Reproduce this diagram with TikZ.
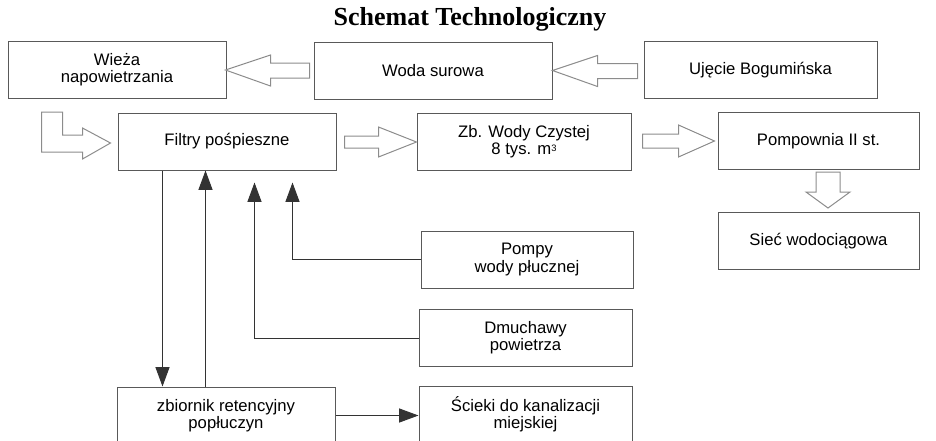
\documentclass[tikz,border=0pt]{standalone}
\usepackage{fontspec}
\setsansfont{Liberation Sans}
\newfontfamily\tytulfont{Liberation Serif}
\usetikzlibrary{arrows.meta,calc}
\tikzset{% style blokow i strzalek
    blok/.style={rectangle, draw=black!65, line width=0.75pt, align=center,
        inner sep=0pt, minimum height=42.75pt,
        font=\sffamily\fontsize{12.5}{13}\selectfont},
    pusta/.style={draw=black!45, line width=0.75pt, line join=miter},
    e/.style={-{Triangle[length=14.5pt,width=10.5pt]}, draw=black!80, line width=0.75pt}}

\begin{document}
\begin{tikzpicture}[x=0.75pt,y=-0.75pt]
    \useasboundingbox (0,0) rectangle (936,440);
    \node[font=\tytulfont\bfseries\fontsize{19.5}{20}\selectfont] (tytul) at (470,19) {Schemat Technologiczny};

    \node[blok, minimum width=163.5pt] (wieza) at (117,70) {Wieża\\napowietrzania};
    \node[blok, minimum width=178.5pt] (woda) at (433,70.5) {Woda surowa};
    \node[blok, minimum width=174.75pt] (ujecie) at (760.5,70) {Ujęcie Bogumińska};
    \node[blok, minimum width=163.5pt] (filtry) at (227,141.5) {Filtry pośpieszne};
    \node[blok, minimum width=160.5pt] (zbiornik) at (524,142) {Zb. Wody Czystej\\8 tys. m{\fontsize{7}{7}\selectfont\raisebox{0.7ex}{3}}};
    \node[blok, minimum width=150.75pt] (pompownia) at (818.5,141) {Pompownia II st.};
    \node[blok, minimum width=150.75pt] (siec) at (818.5,241) {Sieć wodociągowa};
    \node[blok, minimum width=159pt] (pompy) at (527,259.5) {Pompy\\wody płucznej};
    \node[blok, minimum width=159.75pt] (dmuchawy) at (525.5,338) {Dmuchawy\\powietrza};
    \node[blok, minimum width=159.75pt] (scieki) at (525.5,414.5) {Ścieki do kanalizacji\\miejskiej};
    \node[blok, minimum width=163.5pt] (retencja) at (226,415.5) {zbiornik retencyjny\\popłuczyn};

    % puste strzalki
    \draw[pusta] (woda.west) ++(-88,-0.5) -- ++(45,-15) -- ++(0,8) -- ++(39,0) -- ++(0,15)
        -- ++(-39,0) -- ++(0,8) -- cycle;
    \draw[pusta] (woda.east) -- ++(45,-15) -- ++(0,8) -- ++(40,0) -- ++(0,15)
        -- ++(-40,0) -- ++(0,8) -- cycle;
    \draw[pusta] ($(filtry.west)+(-7,1.5)$) -- ++(-28,-15) -- ++(0,7) -- ++(-20,0) -- ++(0,-23)
        -- ++(-21,0) -- ++(0,40) -- ++(41,0) -- ++(0,7) -- cycle;
    \draw[pusta] (zbiornik.west) -- ++(-38,-15) -- ++(0,9) -- ++(-34,0) -- ++(0,12)
        -- ++(34,0) -- ++(0,9) -- cycle;
    \draw[pusta] ($(pompownia.west)+(-3,0)$) -- ++(-36,-16) -- ++(0,9) -- ++(-36,0) -- ++(0,14)
        -- ++(36,0) -- ++(0,9) -- cycle;
    \draw[pusta] ($(siec.north)+(9.5,-4)$) -- ++(-22,-16) -- ++(10,0) -- ++(0,-20) -- ++(24,0)
        -- ++(0,20) -- ++(10,0) -- cycle;

    % linie plukania
    \coordinate (odplyw) at ($(filtry.south west)+(45,0)$);
    \coordinate (powrot) at ($(filtry.south west)+(88,0)$);
    \coordinate (wlotD) at ($(filtry.south west)+(137,12)$);
    \coordinate (wlotP) at ($(filtry.south west)+(175,12)$);
    \draw[e] (odplyw) -- (odplyw |- retencja.north);
    \draw[e] (powrot |- retencja.north) -- (powrot);
    \draw[e] (dmuchawy.west) -| (wlotD);
    \draw[e] (pompy.west) -| (wlotP);
    \draw[e] (retencja.east) -- (retencja.east -| scieki.west);
\end{tikzpicture}
\end{document}
